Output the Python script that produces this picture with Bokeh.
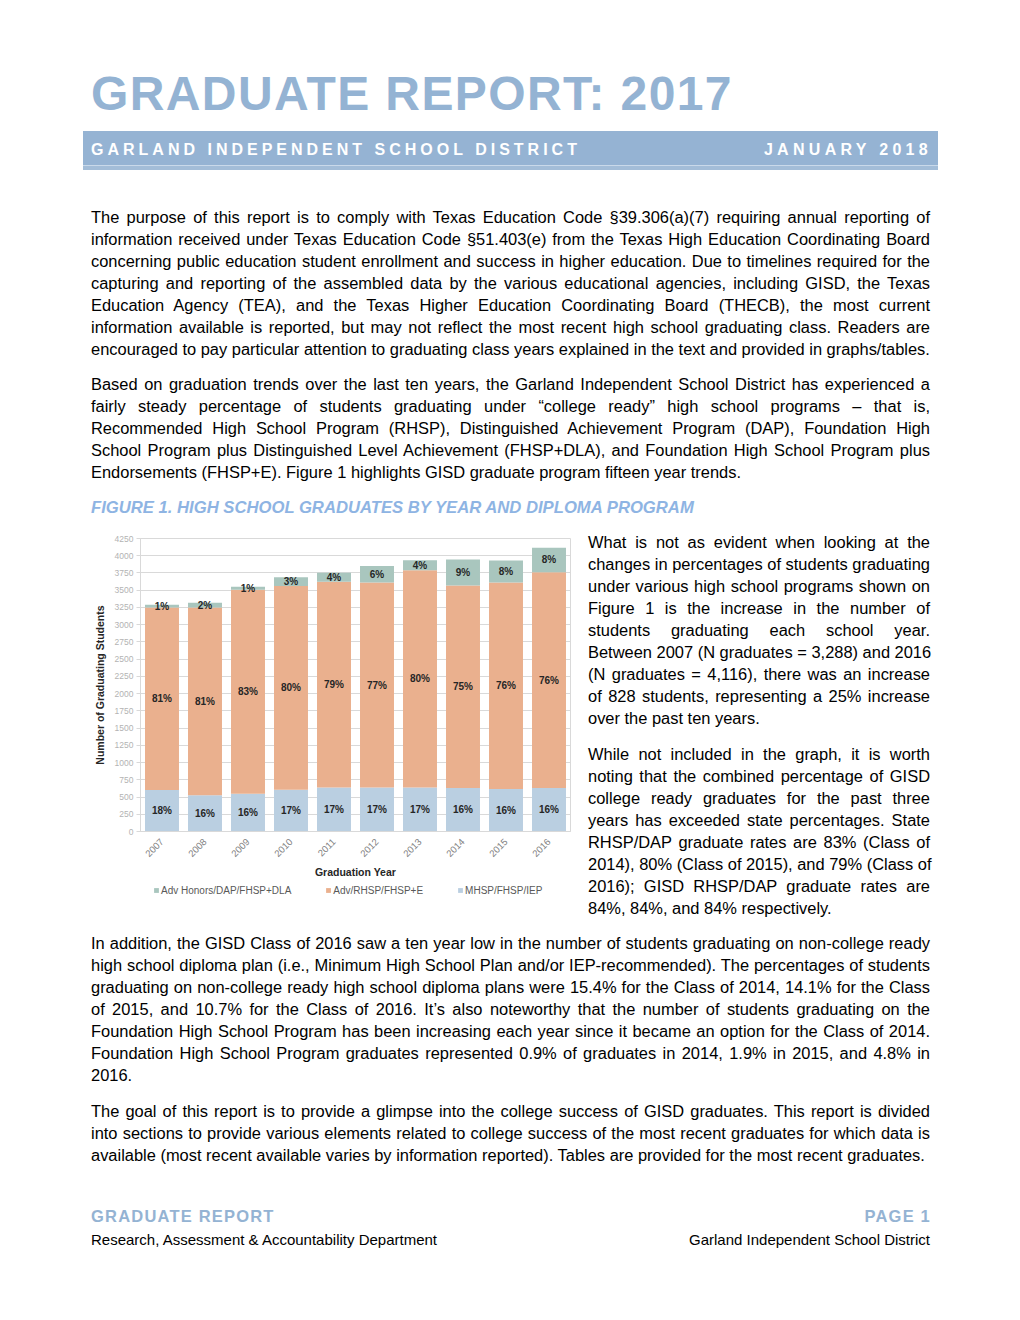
import math
import html
from bokeh.plotting import figure
from bokeh.models import (Div, Legend, LegendItem, ColumnDataSource, FactorRange,
                          Range1d, FixedTicker)
from bokeh.layouts import column, row
from bokeh.embed import file_html
from bokeh.resources import INLINE
from bokeh.core.properties import value

# ---------------- chart data ----------------
years = ["2007", "2008", "2009", "2010", "2011", "2012", "2013", "2014", "2015", "2016"]
mhsp_fhsp_iep = [602, 524, 549, 606, 640, 640, 640, 631, 616, 631]
adv_rhsp_fhsp_e = [2647, 2725, 2956, 2956, 2984, 2970, 3148, 2936, 2994, 3130]
adv_honors_dap = [39, 70, 45, 125, 130, 240, 145, 380, 320, 355]
honors_pct = ["1%", "2%", "1%", "3%", "4%", "6%", "4%", "9%", "8%", "8%"]
rhsp_pct = ["81%", "81%", "83%", "80%", "79%", "77%", "80%", "75%", "76%", "76%"]
mhsp_pct = ["18%", "16%", "16%", "17%", "17%", "17%", "17%", "16%", "16%", "16%"]
y_ticks = [0, 250, 500, 750, 1000, 1250, 1500, 1750, 2000, 2250, 2500, 2750,
           3000, 3250, 3500, 3750, 4000, 4250]
series_names = ["Adv Honors/DAP/FHSP+DLA", "Adv/RHSP/FHSP+E", "MHSP/FHSP/IEP"]

GREEN = "#A9C6BE"
ORANGE = "#EAB08E"
BLUE = "#BACFE1"
series_colors = [GREEN, ORANGE, BLUE]
FONT = "Liberation Sans"

# ---------------- chart ----------------
src = ColumnDataSource(dict(year=years, mhsp=mhsp_fhsp_iep, adv=adv_rhsp_fhsp_e, hon=adv_honors_dap))

p = figure(x_range=FactorRange(*years), y_range=Range1d(0, 4250),
           width=580, height=355, output_backend="svg", toolbar_location=None,
           min_border_left=140, min_border_right=10, min_border_top=13, min_border_bottom=49)
p.margin = 0
p.background_fill_color = "white"
p.border_fill_color = "white"
p.outline_line_color = "#d9d9d9"

rs = p.vbar_stack(["mhsp", "adv", "hon"], x="year", width=0.79, source=src,
                  fill_color=[BLUE, ORANGE, GREEN], line_color=None)

mid_bottom = [m / 2 for m in mhsp_fhsp_iep]
mid_middle = [m + a / 2 for m, a in zip(mhsp_fhsp_iep, adv_rhsp_fhsp_e)]
mid_top = [m + a + h / 2 for m, a, h in zip(mhsp_fhsp_iep, adv_rhsp_fhsp_e, adv_honors_dap)]

for ys, labels in [(mid_bottom, mhsp_pct), (mid_middle, rhsp_pct), (mid_top, honors_pct)]:
    p.text(x=years, y=ys, text=labels, text_align="center", text_baseline="middle",
           text_font=value(FONT), text_font_style="bold", text_font_size="10px",
           text_color="#262626")

p.xgrid.grid_line_color = None
p.ygrid.grid_line_color = "#d9d9d9"
p.yaxis.ticker = FixedTicker(ticks=y_ticks)
p.yaxis.major_label_text_font = FONT
p.yaxis.major_label_text_font_size = "8.5px"
p.yaxis.major_label_text_color = "#b3b3b3"
p.yaxis.axis_line_color = "#d9d9d9"
p.yaxis.major_tick_line_color = "#d9d9d9"
p.yaxis.major_tick_out = 4
p.yaxis.major_tick_in = 0
p.yaxis.minor_tick_line_color = None
p.yaxis.major_label_standoff = 3
p.yaxis.axis_label = "Number of Graduating Students"
p.yaxis.axis_label_text_font = FONT
p.yaxis.axis_label_text_font_style = "bold"
p.yaxis.axis_label_text_font_size = "10.5px"
p.yaxis.axis_label_text_color = "#262626"
p.yaxis.axis_label_standoff = 6

p.xaxis.major_label_orientation = math.pi / 4
p.xaxis.major_label_text_font = FONT
p.xaxis.major_label_text_font_size = "9.5px"
p.xaxis.major_label_text_color = "#7f7f7f"
p.xaxis.axis_line_color = "#d9d9d9"
p.xaxis.major_tick_line_color = None
p.xaxis.major_label_standoff = 3
p.xaxis.axis_label = "Graduation Year"
p.xaxis.axis_label_text_font = FONT
p.xaxis.axis_label_text_font_style = "bold"
p.xaxis.axis_label_text_font_size = "10.5px"
p.xaxis.axis_label_text_color = "#262626"
p.xaxis.axis_label_standoff = 3

# legend in its own strip below the chart (same frame left/right as the chart)
lg = figure(x_range=Range1d(0, 1), y_range=Range1d(0, 1), width=580, height=45,
            output_backend="svg", toolbar_location=None,
            min_border_left=140, min_border_right=10, min_border_top=0, min_border_bottom=0)
lg.margin = 0
lg.axis.visible = False
lg.grid.visible = False
lg.outline_line_color = None
lg.background_fill_color = "white"
lg.border_fill_color = "white"
# zero-height swatch renderers (outside the strip's range) that only feed the legend
swatches = [lg.vbar(x=[-1], top=[0], bottom=[0], width=0.01, fill_color=c, line_color=None)
            for c in series_colors]
legend = Legend(items=[LegendItem(label=n, renderers=[r]) for n, r in zip(series_names, swatches)],
                orientation="horizontal", location=(13, 29),
                glyph_width=6, glyph_height=6, label_height=12, spacing=34,
                label_standoff=2, padding=0, margin=0,
                label_text_font=FONT, label_text_font_size="10px",
                label_text_color="#595959", border_line_color=None,
                background_fill_alpha=0)
lg.add_layout(legend, "center")

# ---------------- page text ----------------
BODY = 16.45
LH = 22


def para(lines, top, left, width):
    parts = []
    for i, ln in enumerate(lines):
        al = "left" if i == len(lines) - 1 else "justify"
        parts.append(f'<div style="height:{LH}px;line-height:{LH}px;white-space:nowrap;'
                     f'text-align:{al};text-align-last:{al};">{html.escape(ln, quote=False)}</div>')
    return (f'<div style="position:absolute;left:{left}px;top:{top}px;width:{width}px;'
            f'font-size:{BODY}px;color:#000;">' + "".join(parts) + '</div>')


def box(content, w, h):
    return (f'<div style="position:relative;width:{w}px;height:{h}px;overflow:hidden;'
            f"font-family:'Liberation Sans',Arial,sans-serif;color:#000;\">" + content + '</div>')


p1 = ["The purpose of this report is to comply with Texas Education Code §39.306(a)(7) requiring annual reporting of",
      "information received under Texas Education Code §51.403(e) from the Texas High Education Coordinating Board",
      "concerning public education student enrollment and success in higher education. Due to timelines required for the",
      "capturing and reporting of the assembled data by the various educational agencies, including GISD, the Texas",
      "Education Agency (TEA), and the Texas Higher Education Coordinating Board (THECB), the most current",
      "information available is reported, but may not reflect the most recent high school graduating class. Readers are",
      "encouraged to pay particular attention to graduating class years explained in the text and provided in graphs/tables."]
p2 = ["Based on graduation trends over the last ten years, the Garland Independent School District has experienced a",
      "fairly steady percentage of students graduating under “college ready” high school programs – that is,",
      "Recommended High School Program (RHSP), Distinguished Achievement Program (DAP), Foundation High",
      "School Program plus Distinguished Level Achievement (FHSP+DLA), and Foundation High School Program plus",
      "Endorsements (FHSP+E). Figure 1 highlights GISD graduate program fifteen year trends."]
s1 = ["What is not as evident when looking at the",
      "changes in percentages of students graduating",
      "under various high school programs shown on",
      "Figure 1 is the increase in the number of",
      "students graduating each school year.",
      "Between 2007 (N graduates = 3,288) and 2016",
      "(N graduates = 4,116), there was an increase",
      "of 828 students, representing a 25% increase",
      "over the past ten years."]
s2 = ["While not included in the graph, it is worth",
      "noting that the combined percentage of GISD",
      "college ready graduates for the past three",
      "years has exceeded state percentages. State",
      "RHSP/DAP graduate rates are 83% (Class of",
      "2014), 80% (Class of 2015), and 79% (Class of",
      "2016); GISD RHSP/DAP graduate rates are",
      "84%, 84%, and 84% respectively."]
p3 = ["In addition, the GISD Class of 2016 saw a ten year low in the number of students graduating on non-college ready",
      "high school diploma plan (i.e., Minimum High School Plan and/or IEP-recommended). The percentages of students",
      "graduating on non-college ready high school diploma plans were 15.4% for the Class of 2014, 14.1% for the Class",
      "of 2015, and 10.7% for the Class of 2016. It’s also noteworthy that the number of students graduating on the",
      "Foundation High School Program has been increasing each year since it became an option for the Class of 2014.",
      "Foundation High School Program graduates represented 0.9% of graduates in 2014, 1.9% in 2015, and 4.8% in",
      "2016."]
p4 = ["The goal of this report is to provide a glimpse into the college success of GISD graduates. This report is divided",
      "into sections to provide various elements related to college success of the most recent graduates for which data is",
      "available (most recent available varies by information reported). Tables are provided for the most recent graduates."]

TITLE_BLUE = "#94B3D3"
W = 1012

top_html = box(
    f'<div style="position:absolute;left:91px;top:70.4px;font-size:48px;line-height:48px;'
    f'font-weight:bold;letter-spacing:1.4px;color:{TITLE_BLUE};white-space:nowrap;">GRADUATE REPORT: 2017</div>'
    f'<div style="position:absolute;left:83px;top:131px;width:855px;height:34px;background:#95B3D3;"></div>'
    f'<div style="position:absolute;left:83px;top:165px;width:855px;height:1px;background:#C9D9EA;"></div>'
    f'<div style="position:absolute;left:83px;top:166px;width:855px;height:4px;background:#A3BDD8;"></div>'
    f'<div style="position:absolute;left:91px;top:142px;font-size:16px;line-height:16px;font-weight:bold;'
    f'letter-spacing:4px;color:#fff;white-space:nowrap;">GARLAND INDEPENDENT SCHOOL DISTRICT</div>'
    f'<div style="position:absolute;right:{W - 930 - 2}px;top:142px;font-size:16px;line-height:16px;font-weight:bold;'
    f'letter-spacing:4.3px;color:#fff;white-space:nowrap;">JANUARY 2018</div>'
    + para(p1, 206.25, 91, 839) + para(p2, 373.25, 91, 839) +
    f'<div style="position:absolute;left:91px;top:498.2px;font-size:16.67px;line-height:20px;'
    f'font-weight:bold;font-style:italic;color:#8EB4E3;white-space:nowrap;">'
    f'FIGURE 1. HIGH SCHOOL GRADUATES BY YEAR AND DIPLOMA PROGRAM</div>',
    W, 525)

side_html = box(para(s1, 6.25, 8, 342) + para(s2, 218.25, 8, 342), W - 580, 400)

bottom_html = box(
    para(p3, 7.25, 91, 839) + para(p4, 175.25, 91, 839) +
    f'<div style="position:absolute;left:91px;top:283.3px;font-size:16.5px;line-height:16px;font-weight:bold;'
    f'letter-spacing:1.2px;color:{TITLE_BLUE};white-space:nowrap;">GRADUATE REPORT</div>'
    f'<div style="position:absolute;right:{W - 930 - 1}px;top:283.3px;font-size:16.5px;line-height:16px;font-weight:bold;'
    f'letter-spacing:1.2px;color:{TITLE_BLUE};white-space:nowrap;">PAGE 1</div>'
    f'<div style="position:absolute;left:91px;top:305.8px;font-size:15px;line-height:18px;color:#000;'
    f'white-space:nowrap;">{html.escape("Research, Assessment & Accountability Department", quote=False)}</div>'
    f'<div style="position:absolute;right:{W - 930}px;top:305.8px;font-size:15px;line-height:18px;color:#000;'
    f'white-space:nowrap;">Garland Independent School District</div>',
    W, 387)

top_div = Div(text=top_html, width=W, height=525, margin=0)
side_div = Div(text=side_html, width=W - 580, height=400, margin=0)
bottom_div = Div(text=bottom_html, width=W, height=387, margin=0)

chart_col = column(p, lg, spacing=0, margin=0)
layout = column(top_div, row(chart_col, side_div, spacing=0, margin=0), bottom_div, spacing=0, margin=0)

open("out.html", "w").write(file_html(layout, INLINE, "Graduate Report 2017"))
